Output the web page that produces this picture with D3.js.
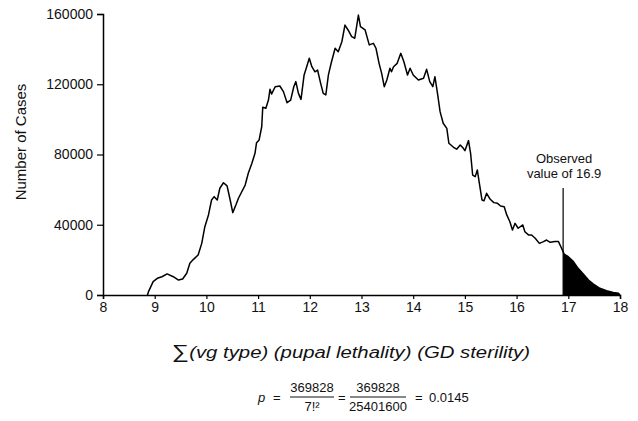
<!DOCTYPE html>
<html>
<head>
<meta charset="utf-8">
<script src="https://cdn.jsdelivr.net/npm/d3@7"></script>
<style>
  body { margin: 0; background: #fff; }
  text { font-family: "Liberation Sans", Arial, sans-serif; fill: #111; }
</style>
</head>
<body>
<svg id="chart" width="638" height="421"></svg>
<script>
/// DATA ///
const sums = [8.86, 8.88, 8.97, 9.05, 9.14, 9.24, 9.36, 9.46, 9.54, 9.62, 9.68, 9.75, 9.84, 9.91, 9.97,
  10.04, 10.10, 10.15, 10.21, 10.26, 10.33, 10.40, 10.46, 10.51, 10.57, 10.62, 10.75, 10.81, 10.88, 10.94, 10.97,
  11.02, 11.07, 11.09, 11.15, 11.20, 11.23, 11.26, 11.33, 11.42, 11.49, 11.56, 11.63, 11.69, 11.73, 11.78, 11.83, 11.89, 11.94, 11.99,
  12.04, 12.10, 12.15, 12.21, 12.26, 12.31, 12.36, 12.42, 12.49, 12.55, 12.62, 12.68, 12.74, 12.81, 12.87, 12.94, 12.98,
  13.07, 13.15, 13.23, 13.28, 13.34, 13.39, 13.44, 13.49, 13.55, 13.58, 13.62, 13.69, 13.76, 13.82, 13.89, 13.94,
  14.00, 14.10, 14.20, 14.26, 14.32, 14.38, 14.42, 14.47, 14.52, 14.58, 14.65, 14.69, 14.78, 14.84, 14.91, 14.97,
  15.00, 15.07, 15.11, 15.15, 15.20, 15.24, 15.28, 15.33, 15.37, 15.42, 15.49, 15.56, 15.63, 15.69, 15.76, 15.81, 15.87, 15.92, 15.97,
  16.03, 16.12, 16.16, 16.23, 16.29, 16.36, 16.44, 16.52, 16.58, 16.65, 16.74, 16.81, 16.87, 16.92,
  17.00, 17.10, 17.19, 17.29, 17.39, 17.48, 17.61, 17.74, 17.87, 17.97, 18.00];

const cases = [0, 1900, 7600, 9500, 10400, 12000, 10400, 8500, 9100, 12400, 18100, 20300, 22800, 29400, 38900,
  45600, 54100, 56000, 54100, 60800, 63900, 62100, 54100, 46900, 51200, 55100, 62600, 69300, 75000, 80700, 86700,
  88300, 95800, 106900, 106300, 111000, 117100, 114400, 118600, 119000, 115800, 109500, 111000, 118600, 121500, 114800, 111400, 125300, 130000, 134800,
  130000, 127100, 128100, 120500, 114800, 113900, 125300, 132800, 140500, 138500, 144200, 153700, 150900, 147100, 146200, 159400, 152800,
  150900, 142400, 143300, 140500, 131900, 126200, 118600, 122400, 129100, 127100, 130000, 131900, 137600, 132800, 125300, 129100,
  125300, 122400, 123400, 128500, 121500, 118600, 124300, 114800, 104400, 97800, 94900, 86400, 84100, 83000, 85400, 83500,
  82200, 87900, 80700, 68300, 67400, 71200, 63600, 54100, 53700, 57900, 54500, 52600, 52200, 50700, 50300, 45600, 41700, 37000, 40800,
  38000, 39900, 36000, 34200, 34200, 32300, 29400, 30400, 31300, 30000, 30400, 30400, 26600, 23300,
  21800, 19000, 15200, 12000, 8500, 6300, 3800, 2400, 1500, 1000, 0];

const xTicks = [8, 9, 10, 11, 12, 13, 14, 15, 16, 17, 18];
const yTicks = [0, 40000, 80000, 120000, 160000];
const observed = 16.9;
const noteLines = ["Observed", "value of 16.9"];

const data = sums.map((s, i) => ({ s: s, n: cases[i] }));

/// SETUP ///
const svg = d3.select("#chart");

const x = d3.scaleLinear().domain([8, 18]).range([103, 620]);
const y = d3.scaleLinear().domain([0, 160000]).range([295, 14]);

// shaded tail beyond the observed value
svg.append("clipPath")
  .attr("id", "tail")
  .append("rect")
  .attr("x", x(observed))
  .attr("y", 0)
  .attr("width", x(18) - x(observed) + 1)
  .attr("height", 421);

const area = d3.area()
  .x(d => x(d.s))
  .y0(y(0))
  .y1(d => y(d.n));

svg.append("path")
  .datum(data)
  .attr("clip-path", "url(#tail)")
  .attr("d", area)
  .attr("fill", "#000");

// curve
const line = d3.line()
  .x(d => x(d.s))
  .y(d => y(d.n));

svg.append("path")
  .datum(data)
  .attr("d", line)
  .attr("fill", "none")
  .attr("stroke", "#000")
  .attr("stroke-width", 1.5)
  .attr("stroke-linejoin", "round");

// AXES
const xAxis = d3.axisBottom(x)
  .tickValues(xTicks)
  .tickSize(4)
  .tickPadding(3)
  .tickFormat(d3.format("d"));

const yAxis = d3.axisLeft(y)
  .tickValues(yTicks)
  .tickSize(6)
  .tickPadding(4)
  .tickFormat(d3.format("d"));

const gx = svg.append("g")
  .attr("transform", `translate(0, ${y(0)})`)
  .call(xAxis);

const gy = svg.append("g")
  .attr("transform", `translate(${x(8)}, 0)`)
  .call(yAxis);

[gx, gy].forEach(g => {
  g.select(".domain").attr("stroke", "#000").attr("stroke-width", 1.5);
  g.selectAll(".tick line").attr("stroke", "#000").attr("stroke-width", 1.2);
  g.selectAll("text")
    .attr("font-family", "'Liberation Sans', Arial, sans-serif")
    .attr("font-size", 14)
    .attr("fill", "#111");
});

// AXIS TITLES
svg.append("text")
  .attr("transform", "translate(26, 142) rotate(-90)")
  .attr("text-anchor", "middle")
  .style("font-size", "15px")
  .text("Number of Cases");

const xTitle = svg.append("text")
  .attr("x", 172)
  .attr("y", 358)
  .attr("textLength", 358)
  .attr("lengthAdjust", "spacingAndGlyphs")
  .style("font-size", "16px")
  .style("font-style", "italic");

xTitle.append("tspan").style("font-size", "19px").style("font-style", "normal").text("\u2211");
xTitle.append("tspan").text("(vg type) (pupal lethality) (GD sterility)");

// ANNOTATION
svg.append("line")
  .attr("x1", x(observed))
  .attr("x2", x(observed))
  .attr("y1", 188)
  .attr("y2", y(0))
  .attr("stroke", "#000")
  .attr("stroke-width", 1.2);

svg.append("g")
  .selectAll("text")
  .data(noteLines)
  .enter()
  .append("text")
  .attr("x", x(observed) + 1)
  .attr("y", (d, i) => 163 + i * 15)
  .attr("text-anchor", "middle")
  .style("font-size", "13px")
  .text(d => d);

// FORMULA
const f = svg.append("g").style("font-size", "13px");
const fy = 397;

f.append("text").attr("x", 258).attr("y", fy + 5).style("font-style", "italic").text("p");
f.append("text").attr("x", 273).attr("y", fy + 5).text("=");

f.append("text").attr("x", 312).attr("y", fy - 5).attr("text-anchor", "middle").text("369828");
f.append("line").attr("x1", 290).attr("x2", 334).attr("y1", fy).attr("y2", fy).attr("stroke", "#111");
f.append("text").attr("x", 312).attr("y", fy + 14).attr("text-anchor", "middle").text("7!\u00b2");

f.append("text").attr("x", 338).attr("y", fy + 5).text("=");

f.append("text").attr("x", 378).attr("y", fy - 5).attr("text-anchor", "middle").text("369828");
f.append("line").attr("x1", 350).attr("x2", 406).attr("y1", fy).attr("y2", fy).attr("stroke", "#111");
f.append("text").attr("x", 378).attr("y", fy + 14).attr("text-anchor", "middle").text("25401600");

f.append("text").attr("x", 415).attr("y", fy + 5).text("=");
f.append("text").attr("x", 429).attr("y", fy + 5).text("0.0145");
</script>
</body>
</html>
